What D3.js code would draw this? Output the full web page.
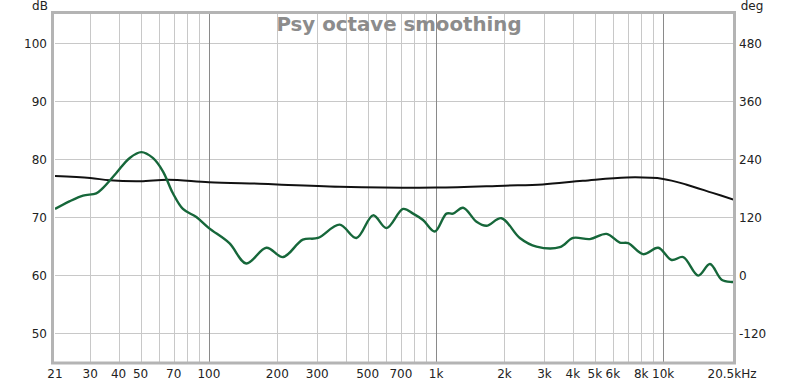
<!DOCTYPE html>
<html>
<head>
<meta charset="utf-8">
<script src="https://cdn.jsdelivr.net/npm/d3@7"></script>
<style>
  body { margin: 0; background: #fff; }
  svg { display: block; font-family: "DejaVu Sans", sans-serif; }
</style>
</head>
<body>
<script>
"use strict";

const WIDTH = 800
const HEIGHT = 382

// magnitude trace (Hz, dB)
const mag_freq = [21, 24.3, 27.9, 31.9, 34.1, 39.1, 44.8, 50.4, 56.6, 62.7, 69.4, 76.8, 88, 100,
    123, 146, 179, 212, 259, 302, 376, 446, 528, 605, 716, 792, 876, 987, 1111, 1188, 1315,
    1507, 1667, 1941, 2337, 2769, 3507, 4014, 4754, 5632, 6443, 7013, 8166, 9508, 10890,
    12250, 14270, 16060, 18080, 20010, 20500]
const mag_db = [71.4, 72.7, 73.7, 74.1, 75.0, 77.6, 80.2, 81.2, 80.2, 77.9, 74.1, 71.4, 70.0, 68.1,
    65.5, 62.0, 64.7, 63.1, 66.1, 66.4, 68.7, 66.4, 70.3, 68.1, 71.4, 70.6, 69.5, 67.5, 70.6, 70.6, 71.6,
    69.2, 68.5, 69.8, 66.4, 64.9, 64.8, 66.4, 66.2, 67.1, 65.6, 65.5, 63.6, 64.7, 62.6,
    63.1, 59.9, 61.9, 59.2, 58.8, 58.8]

// phase trace (Hz, degrees)
const phase_freq = [21, 30, 36.5, 50, 66, 100, 167, 200, 376, 1000, 2000, 2950, 4430, 6920, 10000, 12700, 16500, 20500]
const phase_deg = [205, 201, 196, 194, 197, 192, 189, 187.5, 183, 181, 185, 187.5, 195, 202, 199, 187, 170, 156]

// axes
const db_ticks = [50, 60, 70, 80, 90, 100]
const deg_ticks = [-120, 0, 120, 240, 360, 480]
const grid_freqs = [30, 40, 50, 60, 70, 80, 90, 100, 200, 300, 400, 500, 600, 700, 800, 900,
    1000, 2000, 3000, 4000, 5000, 6000, 7000, 8000, 9000, 10000]
const major_freqs = [100, 1000, 10000]
const freq_labels = [[21, "21"], [30, "30"], [40, "40"], [50, "50"], [70, "70"], [100, "100"],
    [200, "200"], [300, "300"], [500, "500"], [700, "700"], [1000, "1k"], [2000, "2k"],
    [3000, "3k"], [4000, "4k"], [5000, "5k"], [6000, "6k"], [8000, "8k"], [10000, "10k"],
    [20500, "20.5kHz"]]

const plot_left = 55, plot_right = 734, plot_top = 13, plot_bottom = 362

const x = d3.scaleLog().domain([21, 20500]).range([plot_left, plot_right])
const y = d3.scaleLinear().domain([45, 105.2]).range([plot_bottom, plot_top])
const yDeg = d3.scaleLinear().domain([-180, 542.4]).range([plot_bottom, plot_top])

const svg = d3.select("body").append("svg")
    .attr("width", WIDTH)
    .attr("height", HEIGHT)

svg.append("rect")
    .attr("width", WIDTH)
    .attr("height", HEIGHT)
    .attr("fill", "#fff")

const clip = svg.append("clipPath").attr("id", "plot-clip")
clip.append("rect")
    .attr("x", plot_left).attr("y", plot_top)
    .attr("width", plot_right - plot_left).attr("height", plot_bottom - plot_top)

// grid
const grid = svg.append("g").attr("clip-path", "url(#plot-clip)")
grid.selectAll("line.hgrid")
    .data(db_ticks)
    .join("line")
    .attr("class", "hgrid")
    .attr("x1", plot_left).attr("x2", plot_right)
    .attr("y1", d => Math.round(y(d)) + 0.5)
    .attr("y2", d => Math.round(y(d)) + 0.5)
    .attr("stroke", "#c8c8c8")
grid.selectAll("line.vgrid")
    .data(grid_freqs)
    .join("line")
    .attr("class", "vgrid")
    .attr("x1", d => Math.round(x(d)) + 0.5)
    .attr("x2", d => Math.round(x(d)) + 0.5)
    .attr("y1", plot_top).attr("y2", plot_bottom)
    .attr("stroke", d => major_freqs.includes(d) ? "#8a8a8a" : "#c8c8c8")

// title
svg.append("text")
    .attr("x", 399)
    .attr("y", 31)
    .attr("text-anchor", "middle")
    .attr("font-size", 19.8)
    .attr("font-weight", "bold")
    .attr("fill", "#8c8c8c")
    .text("Psy octave smoothing")

// traces
const lines = svg.append("g").attr("clip-path", "url(#plot-clip)")

const phaseLine = d3.line()
    .x(d => x(d[0]))
    .y(d => yDeg(d[1]))
    .curve(d3.curveCatmullRom.alpha(0.5))
lines.append("path")
    .datum(d3.zip(phase_freq, phase_deg))
    .attr("d", phaseLine)
    .attr("fill", "none")
    .attr("stroke", "#111")
    .attr("stroke-width", 2)

const magLine = d3.line()
    .x(d => x(d[0]))
    .y(d => y(d[1]))
    .curve(d3.curveCatmullRom.alpha(0.5))
lines.append("path")
    .datum(d3.zip(mag_freq, mag_db))
    .attr("d", magLine)
    .attr("fill", "none")
    .attr("stroke", "#16673a")
    .attr("stroke-width", 2.4)
    .attr("stroke-linejoin", "round")

// frame
svg.append("rect")
    .attr("x", plot_left - 2.5).attr("y", plot_top - 0.5)
    .attr("width", plot_right - plot_left + 3).attr("height", plot_bottom - plot_top + 1.5)
    .attr("fill", "none")
    .attr("stroke", "#b4b4b4")
    .attr("stroke-width", 3)

// axis labels
const labels = svg.append("g")
    .attr("font-size", 12)
    .attr("fill", "#222")

labels.selectAll("text.db")
    .data(db_ticks)
    .join("text")
    .attr("class", "db")
    .attr("x", 47)
    .attr("y", d => y(d) + 4.5)
    .attr("text-anchor", "end")
    .text(d => d)

labels.selectAll("text.deg")
    .data(deg_ticks)
    .join("text")
    .attr("class", "deg")
    .attr("x", 739)
    .attr("y", d => yDeg(d) + 4.5)
    .text(d => d)

labels.selectAll("text.freq")
    .data(freq_labels)
    .join("text")
    .attr("class", "freq")
    .attr("x", d => d[0] === 20500 ? x(d[0]) - 2 : x(d[0]))
    .attr("y", 378)
    .attr("text-anchor", "middle")
    .text(d => d[1])

labels.append("text")
    .attr("x", 40).attr("y", 10)
    .attr("text-anchor", "middle")
    .text("dB")

labels.append("text")
    .attr("x", 752).attr("y", 10)
    .attr("text-anchor", "middle")
    .text("deg")
</script>
</body>
</html>
